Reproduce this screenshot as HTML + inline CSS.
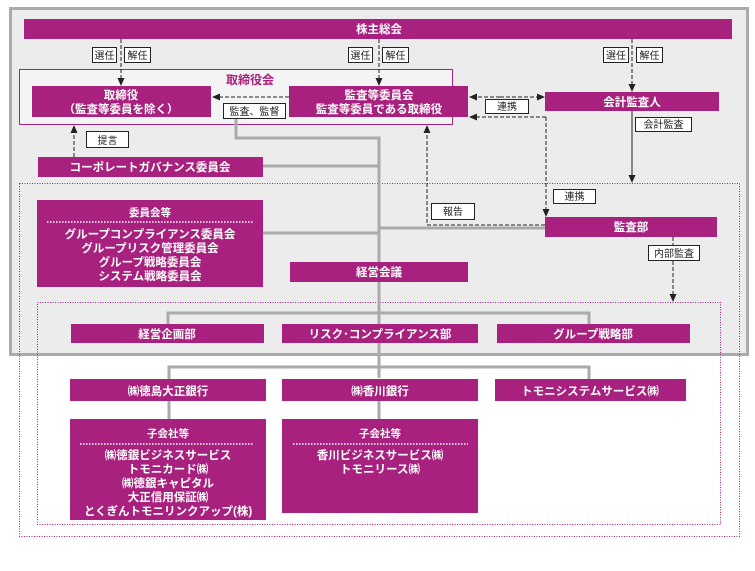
<!DOCTYPE html>
<html><head><meta charset="utf-8"><style>
body{margin:0;background:#fff;}
svg text{font-family:"Liberation Sans","Noto Sans CJK JP",sans-serif;}
</style></head><body>
<svg width="755" height="566" viewBox="0 0 755 566" xmlns="http://www.w3.org/2000/svg">
<defs>
<marker id="a" markerWidth="8" markerHeight="8" refX="7" refY="4" orient="auto" markerUnits="userSpaceOnUse"><path d="M0,0.5 L8,4 L0,7.5z" fill="#222"/></marker>
</defs>
<rect x="0" y="0" width="755" height="566" fill="#fff"/>
<rect x="10.5" y="8.5" width="737" height="346" fill="#ececec" stroke="#aaa" stroke-width="3"/>
<rect x="19.5" y="183.5" width="720" height="353" fill="none" stroke="#a8217f" stroke-width="1" stroke-dasharray="1,1.5"/>
<rect x="37.5" y="302.5" width="683" height="222" fill="none" stroke="#a8217f" stroke-width="1" stroke-dasharray="1,1.5"/>
<rect x="19.5" y="69.5" width="433" height="55" fill="#f4f4f4" stroke="#a8217f" stroke-width="1"/>
<text x="250" y="84" font-size="12" fill="#a8217f" text-anchor="middle" font-weight="bold">取締役会</text>

<!-- gray lines -->
<g stroke="#aaa" stroke-width="3" fill="none">
<path d="M236,117 V138 H379 V378"/>
<path d="M263,166 H379"/>
<path d="M263,233 H379"/>
<path d="M379,228 H546"/>
<path d="M168,324 V313 H589 V324"/>
<path d="M169,379 V367 H589 V379"/>
<path d="M169,401 V419 M379,401 V419"/>
</g>

<g fill="#a8217f">
<rect x="24" y="19" width="708" height="20"/>
<rect x="32" y="86" width="179" height="31"/>
<rect x="289" y="86" width="179" height="31"/>
<rect x="545" y="92" width="174" height="19"/>
<rect x="545" y="217" width="172" height="20"/>
<rect x="38" y="157" width="225" height="20"/>
<rect x="37" y="200" width="226" height="87"/>
<rect x="290" y="262" width="178" height="20"/>
<rect x="71" y="324" width="193" height="19"/>
<rect x="282" y="324" width="196" height="19"/>
<rect x="497" y="324" width="193" height="19"/>
<rect x="70" y="379" width="196" height="22"/>
<rect x="282" y="379" width="196" height="22"/>
<rect x="495" y="379" width="191" height="22"/>
<rect x="70" y="419" width="196" height="101"/>
<rect x="282" y="419" width="196" height="94"/>
</g>
<g stroke="#fff" stroke-width="1.5" stroke-dasharray="1.5,1.5">
<path d="M47,222 H253"/><path d="M80,444 H254"/><path d="M293,444 H468"/>
</g>
<g fill="#fff" font-size="11.5" font-weight="bold" text-anchor="middle">
<text x="379" y="33">株主総会</text>
<text x="121" y="99">取締役</text>
<text x="121" y="113">（監査等委員を除く）</text>
<text x="379" y="99">監査等委員会</text>
<text x="379" y="113">監査等委員である取締役</text>
<text x="632" y="106">会計監査人</text>
<text x="631" y="231">監査部</text>
<text x="150" y="171">コーポレートガバナンス委員会</text>
<text x="150" y="216" font-size="10.5">委員会等</text>
<text x="150" y="238">グループコンプライアンス委員会</text>
<text x="150" y="252">グループリスク管理委員会</text>
<text x="150" y="266">グループ戦略委員会</text>
<text x="150" y="280">システム戦略委員会</text>
<text x="379" y="276">経営会議</text>
<text x="167" y="338">経営企画部</text>
<text x="380" y="338">リスク･コンプライアンス部</text>
<text x="593" y="338">グループ戦略部</text>
<text x="168" y="395">㈱徳島大正銀行</text>
<text x="380" y="395">㈱香川銀行</text>
<text x="590" y="395">トモニシステムサービス㈱</text>
<text x="168" y="437" font-size="10.5">子会社等</text>
<text x="168" y="459">㈱徳銀ビジネスサービス</text>
<text x="168" y="473">トモニカード㈱</text>
<text x="168" y="487">㈱徳銀キャピタル</text>
<text x="168" y="501">大正信用保証㈱</text>
<text x="168" y="515">とくぎんトモニリンクアップ(株)</text>
<text x="380" y="437" font-size="10.5">子会社等</text>
<text x="380" y="459">香川ビジネスサービス㈱</text>
<text x="380" y="473">トモニリース㈱</text>
</g>

<!-- arrows -->
<g stroke="#222" stroke-width="1" fill="none" stroke-dasharray="4,2">
<path d="M121,39 V85" marker-end="url(#a)"/>
<path d="M379,39 V85" marker-end="url(#a)"/>
<path d="M632,39 V91" marker-end="url(#a)"/>
<path d="M289,97 H213" marker-end="url(#a)"/>
<path d="M500,97 H470" marker-end="url(#a)"/>
<path d="M500,97 H544" marker-end="url(#a)"/>
<path d="M546,117 V216" marker-end="url(#a)"/>
<path d="M546,117 H470" marker-end="url(#a)"/>
<path d="M545,225 H427 V126" marker-end="url(#a)"/>
<path d="M74,157 V126" marker-end="url(#a)"/>
<path d="M673,237 V301" marker-end="url(#a)"/>
</g>
<path d="M632,111 V182" stroke="#222" stroke-width="1" marker-end="url(#a)"/>

<g fill="#fff" stroke="#222" stroke-width="1">
<rect x="92.5" y="47.5" width="24" height="15"/><rect x="124.5" y="47.5" width="26" height="15"/>
<rect x="348.5" y="47.5" width="24" height="15"/><rect x="382.5" y="47.5" width="26" height="15"/>
<rect x="603.5" y="47.5" width="25" height="15"/><rect x="636.5" y="47.5" width="26" height="15"/>
<rect x="223.5" y="103.5" width="62" height="15"/>
<rect x="485.5" y="99.5" width="43" height="14"/>
<rect x="86.5" y="131.5" width="42" height="16"/>
<rect x="635.5" y="117.5" width="56" height="14"/>
<rect x="553.5" y="189.5" width="42" height="14"/>
<rect x="431.5" y="203.5" width="43" height="16"/>
<rect x="648.5" y="245.5" width="51" height="15"/>
</g>
<g fill="#222" font-size="10" text-anchor="middle">
<text x="104.5" y="59">選任</text><text x="137.5" y="59">解任</text>
<text x="360.5" y="59">選任</text><text x="395.5" y="59">解任</text>
<text x="616" y="59">選任</text><text x="649.5" y="59">解任</text>
<text x="254.5" y="115">監査、監督</text>
<text x="507" y="110">連携</text>
<text x="107.5" y="144">提言</text>
<text x="663.5" y="128">会計監査</text>
<text x="574.5" y="200">連携</text>
<text x="453" y="215">報告</text>
<text x="674" y="257">内部監査</text>
</g>
</svg>
</body></html>
